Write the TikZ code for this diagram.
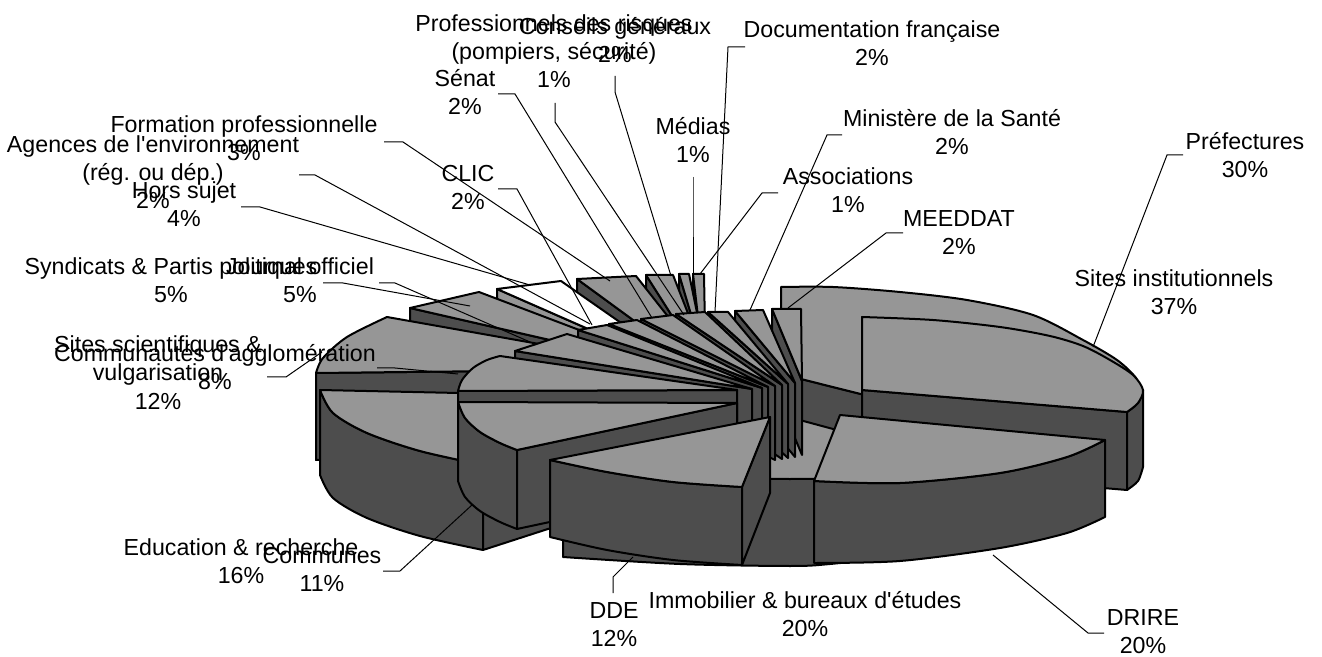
\documentclass[tikz,border=0pt]{standalone}
\usepackage{fontspec}
\setmainfont{Liberation Sans}
\definecolor{topgray}{RGB}{150,150,150}
\definecolor{sidegray}{RGB}{77,77,77}
\tikzset{
  slicetop/.style={fill=topgray, draw=black, line width=1pt, line join=round},
  sideface/.style={fill=sidegray, draw=black, line width=1pt, line join=round},
  lead/.style={draw=black, line width=0.5pt},
  lab/.style={font=\fontsize{11.6}{13}\selectfont, anchor=base, inner sep=0pt},
}
% label: name, centre x, first baseline y, lines
\newcommand\chartlabel[4]{%
  \foreach \txt [count=\k] in {#4}
    \node[lab] (#1\k) at (#2,{#3+28*(\k-1)}) {\txt};}
% leader: name, start, bend, end
\newcommand\leader[4]{%
  \coordinate (#1a) at (#2);
  \coordinate (#1b) at (#4);
  \draw[lead] (#1a) -- (#3) -- (#1b);}
\newcommand\apos{\textquotesingle}

\begin{document}
\begin{tikzpicture}[x=0.5pt,y=-0.5pt]
\useasboundingbox (0,0) rectangle (1322,657);

% ---- back pie ----
% Sites institutionnels
\filldraw[sideface] (781,374) -- (1060,444) -- (1060,530) -- (781,460) -- cycle;
\filldraw[slicetop] (781,374) -- (781,287) -- plot[smooth] coordinates {(781,287) (833,287) (900,292) (967,300) (1033,315) (1083,340) (1117,360) (1136,378) (1140,392)} -- (1060,444) -- cycle;

% small slices at the back
\foreach \lx/\ly/\rx/\ry/\ax/\ay in {693/274/704/274/706/385, 679/274/689/274/712/385, 646/275/673/275/716/385, 577/279/636/276/722/385}{
  \filldraw[sideface] (\lx,\ly) -- (\ax,\ay) -- (\ax,{\ay+85}) -- (\lx,{\ly+85}) -- cycle;
  \filldraw[slicetop] (\ax,\ay) -- (\lx,\ly) -- (\rx,\ry) -- cycle;
}
\filldraw[slicetop] (497,289) -- (700,378) -- (700,463) -- (497,374) -- cycle;
\filldraw[slicetop, fill=white] (700,378) -- (497,289) -- (561,281) -- cycle;
\filldraw[sideface] (410,308) -- (690,372) -- (690,459) -- (410,395) -- cycle;
\filldraw[slicetop] (690,372) -- (410,308) -- (479,292) -- cycle;

% Sites scientifiques
\filldraw[sideface] (316,373) -- (680,369) -- (680,456) -- (316,460) -- cycle;
\filldraw[slicetop] (680,369) -- (316,373) -- plot[smooth] coordinates {(316,373) (323,358) (347,337) (387,317)} -- cycle;

% Education & recherche
\filldraw[sideface] plot[smooth] coordinates {(320,390) (333,413) (367,433) (420,451) (483,465)} -- (483,550) -- plot[smooth] coordinates {(483,550) (420,536) (367,518) (333,498) (320,475)} -- cycle;
\filldraw[sideface] (483,465) -- (690,398) -- (690,483) -- (483,550) -- cycle;
\filldraw[slicetop] (690,398) -- (320,390) -- plot[smooth] coordinates {(320,390) (333,413) (367,433) (420,451) (483,465)} -- cycle;

% Immobilier
\filldraw[sideface] plot[smooth] coordinates {(563,470) (680,477) (790,479) (900,477) (1000,474)} -- (1000,540) -- plot[smooth] coordinates {(1000,540) (900,556) (830,564) (790,566) (680,564) (563,557)} -- cycle;
\filldraw[slicetop] (770,412) -- (1000,474) -- plot[smooth] coordinates {(1000,474) (900,477) (790,479) (680,477) (563,470)} -- cycle;

% ---- front pie ----
% Prefectures
\filldraw[sideface] (862,390) -- (1127,412) -- (1127,490) -- (862,468) -- cycle;
\filldraw[sideface] plot[smooth] coordinates {(1143,390) (1138,403) (1127,412)} -- (1127,490) -- plot[smooth] coordinates {(1127,490) (1138,481) (1143,467)} -- cycle;
\filldraw[slicetop] (862,390) -- (862,317) -- plot[smooth] coordinates {(862,317) (933,320) (1000,327) (1050,336) (1083,346) (1110,360) (1133,375) (1143,390) (1138,403) (1127,412)} -- cycle;

% fan of small slices
\foreach \lx/\ly/\rx/\ry/\ax/\ay in {772/309/801/309/802/381, 735/311/763/310/795/383, 708/312/728/312/788/384, 676/314/705/312/782/385, 641/319/673/315/775/386, 609/324/637/320/768/387, 578/330/607/325/762/388, 515/351/567/334/752/389}{
  \filldraw[sideface] (\lx,\ly) -- (\ax,\ay) -- (\ax,{\ay+74}) -- (\lx,{\ly+74}) -- cycle;
  \filldraw[slicetop] (\ax,\ay) -- (\lx,\ly) -- (\rx,\ry) -- cycle;
}

% Communautes d'agglomeration
\filldraw[sideface] (458,391) -- (737,390) -- (737,468) -- (458,469) -- cycle;
\filldraw[slicetop] (737,390) -- (458,391) -- plot[smooth] coordinates {(458,391) (462,380) (473,368) (487,360) (500,356)} -- cycle;

% Communes
\filldraw[sideface] plot[smooth] coordinates {(458,402) (465,418) (480,432) (500,443) (517,450)} -- (517,529) -- plot[smooth] coordinates {(517,529) (500,522) (480,511) (465,497) (458,481)} -- cycle;
\filldraw[sideface] (517,450) -- (737,403) -- (737,482) -- (517,529) -- cycle;
\filldraw[slicetop] (737,403) -- (458,402) -- plot[smooth] coordinates {(458,402) (465,418) (480,432) (500,443) (517,450)} -- cycle;

% DRIRE
\filldraw[sideface] plot[smooth] coordinates {(814,481) (900,483) (1000,473) (1067,457) (1105,440)} -- (1105,517) -- plot[smooth] coordinates {(1105,517) (1067,533) (1000,548) (900,561) (814,563)} -- cycle;
\filldraw[slicetop] (840,415) -- (814,481) -- plot[smooth] coordinates {(814,481) (900,483) (1000,473) (1067,457) (1105,440)} -- cycle;

% DDE
\filldraw[sideface] plot[smooth] coordinates {(550,460) (607,472) (673,482) (742,487)} -- (742,565) -- plot[smooth] coordinates {(742,565) (673,560) (607,550) (550,537)} -- cycle;
\filldraw[sideface] (742,487) -- (770,417) -- (770,493) -- (742,565) -- cycle;
\filldraw[slicetop] (770,417) -- (550,460) -- plot[smooth] coordinates {(550,460) (607,472) (673,482) (742,487)} -- cycle;

% ---- leaders ----
\leader{pref}{1183,155}{1167,155}{1093,347}
\leader{drire}{1104,633}{1088,633}{993,555}
\leader{dde}{613,593}{613,577}{633,557}
\leader{comm}{383,571}{400,571}{472,505}
\leader{scie}{267,377}{286,377}{322,352}
\leader{aggl}{377,368}{395,368}{458,374}
\leader{synd}{323,283}{343,283}{470,306}
\leader{jo}{379,283}{395,283}{530,342}
\leader{hors}{241,207}{260,207}{530,285}
\leader{agen}{299,175}{315,175}{590,324}
\leader{form}{384,142}{403,142}{610,281}
\leader{clic}{498,189}{517,189}{592,325}
\leader{sen}{498,94}{515,94}{652,318}
\leader{prof}{555,103}{555,122}{684,315}
\leader{cons}{615,76}{615,92}{671,276}
\leader{med}{693,177}{693,200}{693,275}
\leader{doc}{745,47}{728,47}{715,312}
\leader{min}{842,135}{827,135}{750,310}
\leader{asso}{778,193}{762,193}{700,274}
\leader{meed}{903,233}{886,233}{788,308}

% ---- labels ----
\chartlabel{prof}{554}{32}{Professionnels des risques,{(pompiers, sécurité)},1\%}
\chartlabel{cons}{615}{35}{Conseils généraux,2\%}
\chartlabel{doc}{872}{38}{Documentation française,2\%}
\chartlabel{sen}{465}{87}{Sénat,2\%}
\chartlabel{min}{952}{127}{Ministère de la Santé,2\%}
\chartlabel{med}{693}{135}{Médias,1\%}
\chartlabel{form}{244}{133}{Formation professionnelle,3\%}
\chartlabel{agen}{153}{153}{Agences de l\apos environnement,(rég. ou dép.),2\%}
\chartlabel{clic}{468}{182}{CLIC,2\%}
\chartlabel{asso}{848}{185}{Associations,1\%}
\chartlabel{hors}{184}{199}{Hors sujet,4\%}
\chartlabel{meed}{959}{227}{MEEDDAT,2\%}
\chartlabel{pref}{1245}{150}{Préfectures,30\%}
\chartlabel{synd}{171}{275}{Syndicats \& Partis politiques,5\%}
\chartlabel{jo}{300}{275}{Journal officiel,5\%}
\chartlabel{inst}{1174}{287}{Sites institutionnels,37\%}
\chartlabel{scie}{158}{353}{Sites scientifiques \&,vulgarisation,12\%}
\chartlabel{aggl}{215}{362}{Communautés d\apos agglomération,8\%}
\chartlabel{edu}{241}{555}{Education \& recherche,16\%}
\chartlabel{comm}{322}{563}{Communes,11\%}
\chartlabel{immo}{805}{608}{Immobilier \& bureaux d\apos études,20\%}
\chartlabel{dde}{614}{618}{DDE,12\%}
\chartlabel{drire}{1143}{625}{DRIRE,20\%}
\end{tikzpicture}
\end{document}
